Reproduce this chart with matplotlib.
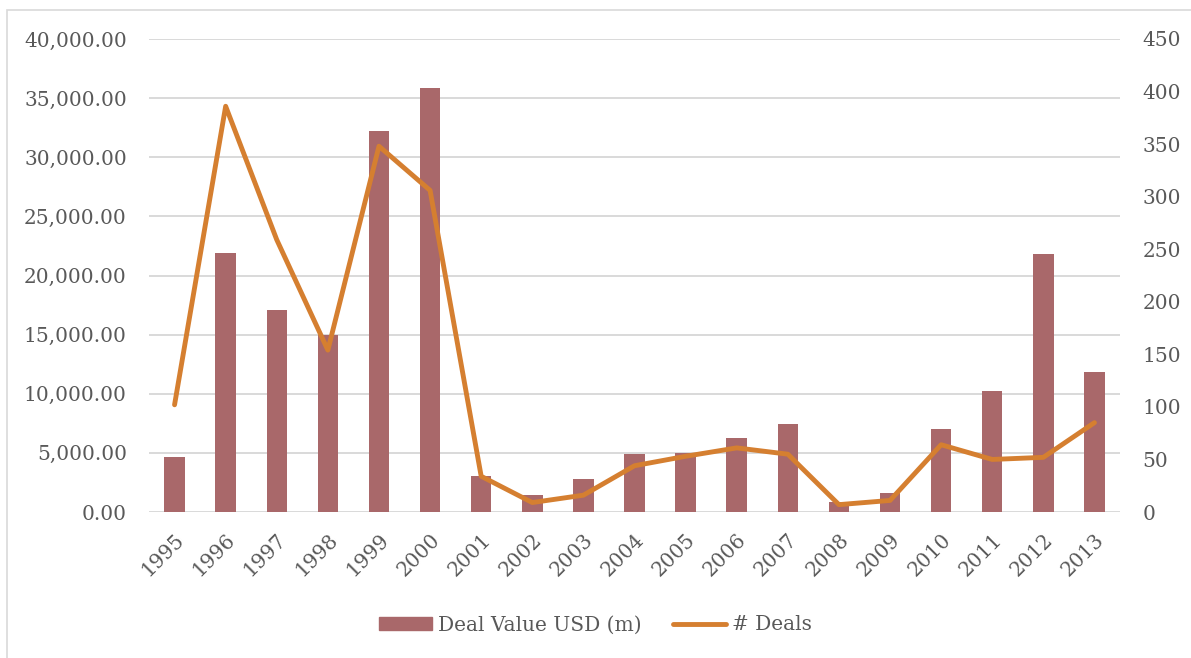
import numpy as np
import matplotlib.pyplot as plt
from matplotlib.patches import Rectangle
from matplotlib.ticker import FuncFormatter
from matplotlib.lines import Line2D
from matplotlib.patches import Patch

# Data
years = [str(y) for y in range(1995, 2014)]
deal_value = [4650, 21900, 17100, 15000, 32250, 35850, 3070, 1410, 2790, 4880,
              4960, 6290, 7420, 820, 1630, 6990, 10230, 21820, 11820]
num_deals = [102, 386, 259, 154, 348, 306, 34, 9, 16, 44,
             53, 61, 55, 7, 11, 64, 50, 52, 85]

bar_color = '#A9686A'
line_color = '#D57F30'
text_color = '#595959'
grid_color = '#D9D9D9'
fs = 14.5

plt.rcParams['font.family'] = ['DejaVu Serif']

fig = plt.figure(figsize=(11.91, 6.58), dpi=100)
ax = fig.add_axes([149 / 1191, 1 - 512 / 658, 971 / 1191, 473 / 658])
ax2 = ax.twinx()

x = np.arange(len(years))
ax.bar(x, deal_value, width=0.4, color=bar_color, zorder=2)
ax2.plot(x, num_deals, color=line_color, lw=3.5, solid_joinstyle='round',
         solid_capstyle='round', zorder=3)

ax.set_xlim(-0.5, len(years) - 0.5)
ax.set_ylim(0, 40000)
ax2.set_ylim(0, 450)
ax.set_yticks(np.arange(0, 40001, 5000))
ax2.set_yticks(np.arange(0, 451, 50))
ax.yaxis.set_major_formatter(FuncFormatter(lambda v, p: f'{v:,.2f}'))

ax.grid(axis='y', color=grid_color, lw=1.4, zorder=0)
ax.set_axisbelow(True)
for a in (ax, ax2):
    for s in a.spines.values():
        s.set_visible(False)
    a.tick_params(length=0, labelsize=fs, colors=text_color)
ax.tick_params(axis='y', pad=16)
ax2.tick_params(axis='y', pad=16)

ax.set_xticks(x)
ax.set_xticklabels(years, rotation=45, ha='right', va='top', rotation_mode='anchor')
ax.tick_params(axis='x', pad=13)

handles = [Patch(color=bar_color),
           Line2D([0], [0], color=line_color, lw=3.5, solid_capstyle='round')]
fig.legend(handles, ['Deal Value USD (m)', '# Deals'], loc='center',
           bbox_to_anchor=(0.5, 1 - 625 / 658), ncol=2, frameon=False,
           fontsize=fs, labelcolor=text_color, handlelength=2.6,
           handleheight=0.6, handletextpad=0.3, columnspacing=1.6)

fig.patches.append(Rectangle((7 / 1191, -0.1), 1.2, 1 - 10 / 658 + 0.1,
                             transform=fig.transFigure, fill=False,
                             edgecolor='#D9D9D9', lw=1.2))

fig.savefig('out.png', dpi=100)
